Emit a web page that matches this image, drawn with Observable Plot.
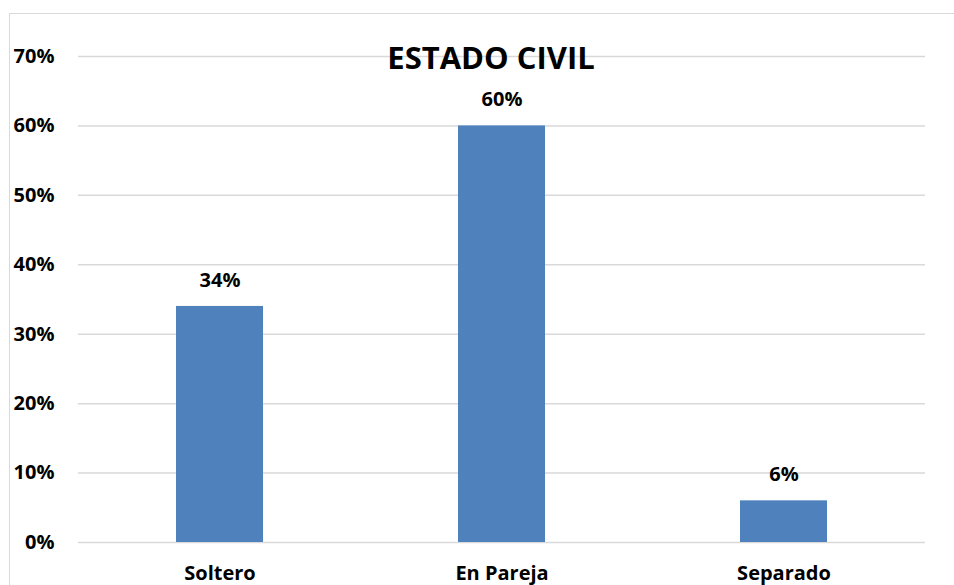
<!DOCTYPE html>
<html>
<head>
<meta charset="utf-8">
<script src="https://cdn.jsdelivr.net/npm/d3@7"></script>
<script src="https://cdn.jsdelivr.net/npm/@observablehq/plot@0.6"></script>
<style>
  html, body { margin: 0; padding: 0; background: #fff; }
  #wrap { position: relative; width: 954px; height: 585px; overflow: hidden; }
  #frame { position: absolute; left: 9px; top: 13px; width: 960px; height: 600px;
           border-left: 1.5px solid #d9d9d9; border-top: 1.5px solid #d9d9d9; pointer-events: none; }
  #wrap svg { position: absolute; left: 0; top: 0; }
</style>
</head>
<body>
<div id="wrap"><div id="frame"></div></div>
<script>
const title = "ESTADO CIVIL";
const categories = ["Soltero", "En Pareja", "Separado"];
const values = [0.34, 0.60, 0.06];
const yTicks = [0, 0.1, 0.2, 0.3, 0.4, 0.5, 0.6, 0.7];

const data = categories.map((c, i) => ({category: c, value: values[i]}));
const font = "'Open Sans', sans-serif";

const chart = Plot.plot({
  width: 954,
  height: 585,
  marginLeft: 78,
  marginRight: 29,
  marginTop: 56,
  marginBottom: 43,
  style: {fontFamily: font, fontSize: "20px", fontWeight: "bold", color: "#000", background: "transparent"},
  x: {domain: categories, paddingInner: 0.69, paddingOuter: 0.345, label: null},
  y: {domain: [0, 0.7], label: null},
  marks: [
    Plot.gridY(yTicks, {stroke: "#d9d9d9", strokeOpacity: 1, strokeWidth: 1.5}),
    Plot.barY(data, {x: "category", y: "value", fill: "#4f81bd"}),
    Plot.text(data, {x: "category", y: "value", text: d => Math.round(d.value * 100) + "%",
      dy: -26, fontSize: 20, fontWeight: "bold", fill: "#000"}),
    Plot.axisY(yTicks, {tickSize: 0, tickPadding: 24, tickFormat: d => Math.round(d * 100) + "%",
      fontSize: 20, fontWeight: "bold", label: null}),
    Plot.axisX({tickSize: 0, tickPadding: 23, fontSize: 20, fontWeight: "bold", label: null}),
    Plot.text([title], {frameAnchor: "top", dy: -10, text: d => d, fontSize: 31, fontWeight: "bold", fill: "#000", dx: -11})
  ]
});
document.getElementById("wrap").appendChild(chart);
</script>
</body>
</html>
